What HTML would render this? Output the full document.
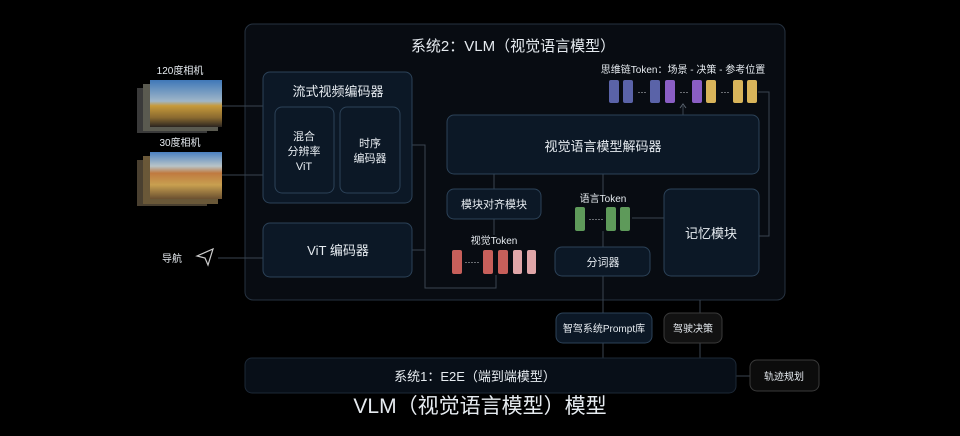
<!DOCTYPE html>
<html><head><meta charset="utf-8"><style>
html,body{margin:0;padding:0;background:#000;}
svg{display:block}
text{font-family:"Liberation Sans","Noto Sans CJK SC",sans-serif;fill:#e6ebf0;}
</style></head><body>
<svg width="960" height="436" viewBox="0 0 960 436" xmlns="http://www.w3.org/2000/svg">
<defs>
<linearGradient id="sky1" x1="0" y1="0" x2="0" y2="1">
<stop offset="0" stop-color="#3f78b8"/><stop offset="0.45" stop-color="#9fb6c8"/><stop offset="0.55" stop-color="#c79a3a"/><stop offset="0.8" stop-color="#8a6a30"/><stop offset="1" stop-color="#2a2420"/></linearGradient>
<linearGradient id="sky2" x1="0" y1="0" x2="0" y2="1">
<stop offset="0" stop-color="#4a80c0"/><stop offset="0.3" stop-color="#b8c4c8"/><stop offset="0.45" stop-color="#c07a40"/><stop offset="0.7" stop-color="#c8a050"/><stop offset="1" stop-color="#6a5030"/></linearGradient>
</defs>
<rect width="960" height="436" fill="#000"/>
<!-- outer -->
<rect x="245" y="24" width="540" height="276" rx="8" fill="#080c12" stroke="#263240"/>
<text x="513" y="51" font-size="15" text-anchor="middle">系统2：VLM（视觉语言模型）</text>
<g stroke="#3a4450" stroke-width="1" fill="none">
<line x1="222" y1="106" x2="263" y2="106"/>
<line x1="222" y1="175" x2="263" y2="175"/>
<line x1="218" y1="258" x2="263" y2="258"/>
<polyline points="412,145 425,145 425,288 496,288 496,275"/>
<line x1="412" y1="250" x2="425" y2="250"/>
<line x1="494" y1="174" x2="494" y2="189"/>
<line x1="494" y1="219" x2="494" y2="235"/>
<line x1="603" y1="174" x2="603" y2="195"/>
<line x1="603" y1="231" x2="603" y2="247"/>
<line x1="603" y1="276" x2="603" y2="313"/>
<line x1="603" y1="343" x2="603" y2="358"/>
<line x1="700" y1="300" x2="700" y2="313"/>
<line x1="700" y1="343" x2="700" y2="358"/>
<line x1="632" y1="218" x2="664" y2="218"/>
<polyline points="758,92 769,92 769,236 759,236"/>
<line x1="683" y1="115" x2="683" y2="106"/>
<line x1="736" y1="376" x2="750" y2="376"/>
</g>
<path d="M680,108 L683,104 L686,108" stroke="#5a6470" fill="none"/>
<g fill="#0c1826" stroke="#2c4258">
<rect x="263" y="72" width="149" height="131" rx="7"/>
<rect x="275" y="107" width="59" height="86" rx="7"/>
<rect x="340" y="107" width="60" height="86" rx="7"/>
<rect x="263" y="223" width="149" height="54" rx="7"/>
<rect x="447" y="115" width="312" height="59" rx="7"/>
<rect x="447" y="189" width="94" height="30" rx="7"/>
<rect x="555" y="247" width="95" height="29" rx="7"/>
<rect x="664" y="189" width="95" height="87" rx="7"/>
<rect x="556" y="313" width="96" height="30" rx="7"/>
<rect x="245" y="358" width="491" height="35" rx="7" fill="#080f18" stroke="#1c2836"/>
</g>
<rect x="664" y="313" width="58" height="30" rx="7" fill="#121212" stroke="#3a3a3a"/>
<rect x="750" y="360" width="69" height="31" rx="7" fill="#0c0c0c" stroke="#3a3a3a"/>
<!-- labels -->
<text x="338" y="96" font-size="13" text-anchor="middle">流式视频编码器</text>
<text x="304" y="140" font-size="11" text-anchor="middle">混合</text>
<text x="304" y="155" font-size="11" text-anchor="middle">分辨率</text>
<text x="304" y="170" font-size="11" text-anchor="middle">ViT</text>
<text x="370" y="147" font-size="11" text-anchor="middle">时序</text>
<text x="370" y="162" font-size="11" text-anchor="middle">编码器</text>
<text x="338" y="255" font-size="13" text-anchor="middle">ViT 编码器</text>
<text x="603" y="151" font-size="13" text-anchor="middle">视觉语言模型解码器</text>
<text x="494" y="208" font-size="11" text-anchor="middle">模块对齐模块</text>
<text x="603" y="266" font-size="11" text-anchor="middle">分词器</text>
<text x="711" y="238" font-size="13" text-anchor="middle">记忆模块</text>
<text x="604" y="332" font-size="10" text-anchor="middle">智驾系统Prompt库</text>
<text x="693" y="332" font-size="10" text-anchor="middle">驾驶决策</text>
<text x="784" y="380" font-size="10" text-anchor="middle">轨迹规划</text>
<text x="475" y="381" font-size="13" text-anchor="middle">系统1：E2E（端到端模型）</text>
<text x="480" y="413" font-size="21" text-anchor="middle" fill="#fff">VLM（视觉语言模型）模型</text>
<text x="494" y="244" font-size="10" text-anchor="middle">视觉Token</text>
<text x="603" y="202" font-size="10" text-anchor="middle">语言Token</text>
<text x="683" y="73" font-size="10" text-anchor="middle">思维链Token：场景 - 决策 - 参考位置</text>
<text x="180" y="74" font-size="10" text-anchor="middle" fill="#ccc">120度相机</text>
<text x="180" y="146" font-size="10" text-anchor="middle" fill="#ccc">30度相机</text>
<text x="172" y="262" font-size="10" text-anchor="middle" fill="#ccc">导航</text>
<path d="M197,256 L213,249 L208,265 L205,258 Z" fill="none" stroke="#ccc" stroke-width="1.2"/>
<!-- tokens -->
<g>
<rect x="452" y="250" width="10" height="24" rx="2" fill="#c75f5a"/>
<rect x="483" y="250" width="10" height="24" rx="2" fill="#c75f5a"/>
<rect x="498" y="250" width="10" height="24" rx="2" fill="#c75f5a"/>
<rect x="513" y="250" width="9" height="24" rx="2" fill="#e0a6a8"/>
<rect x="527" y="250" width="9" height="24" rx="2" fill="#e0a6a8"/>
<text x="472" y="265" font-size="9" text-anchor="middle" fill="#aaa">·····</text>
<rect x="575" y="207" width="10" height="24" rx="2" fill="#5e9a5a"/>
<rect x="606" y="207" width="10" height="24" rx="2" fill="#5e9a5a"/>
<rect x="620" y="207" width="10" height="24" rx="2" fill="#5e9a5a"/>
<text x="596" y="222" font-size="9" text-anchor="middle" fill="#aaa">·····</text>
<rect x="609" y="80" width="10" height="23" rx="2" fill="#5a63a8"/>
<rect x="623" y="80" width="10" height="23" rx="2" fill="#5a63a8"/>
<rect x="650" y="80" width="10" height="23" rx="2" fill="#5a63a8"/>
<rect x="665" y="80" width="10" height="23" rx="2" fill="#8a5ec4"/>
<rect x="692" y="80" width="10" height="23" rx="2" fill="#8a5ec4"/>
<rect x="706" y="80" width="10" height="23" rx="2" fill="#d8b45a"/>
<rect x="733" y="80" width="10" height="23" rx="2" fill="#d8b45a"/>
<rect x="747" y="80" width="10" height="23" rx="2" fill="#d8b45a"/>
<text x="642" y="95" font-size="9" text-anchor="middle" fill="#aaa">···</text>
<text x="684" y="95" font-size="9" text-anchor="middle" fill="#aaa">···</text>
<text x="725" y="95" font-size="9" text-anchor="middle" fill="#aaa">···</text>
</g>
<!-- camera images -->
<rect x="137" y="88" width="70" height="45" fill="#3a3a3a"/>
<rect x="143" y="84" width="75" height="47" fill="#5a5a50"/>
<rect x="150" y="80" width="72" height="47" fill="url(#sky1)"/>
<rect x="137" y="160" width="70" height="46" fill="#4a4030"/>
<rect x="143" y="156" width="75" height="48" fill="#6a5838"/>
<rect x="150" y="152" width="72" height="47" fill="url(#sky2)"/>
</svg>
</body></html>
